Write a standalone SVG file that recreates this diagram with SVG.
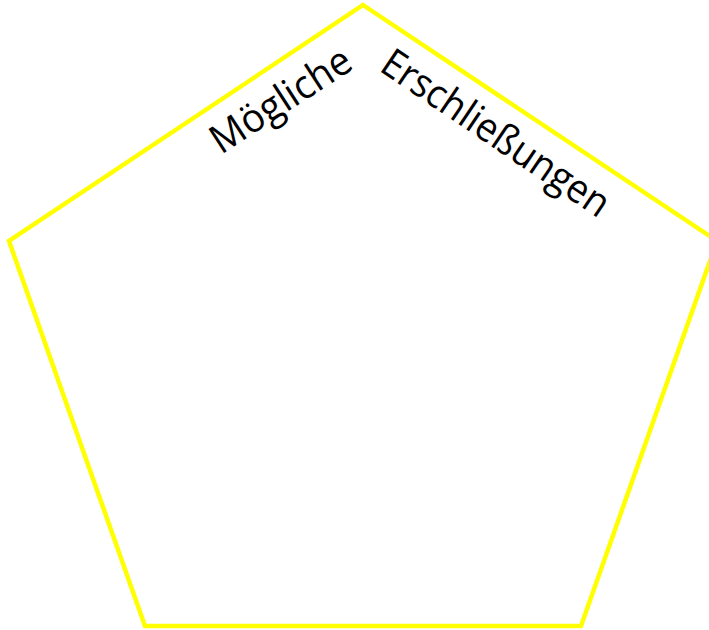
<svg xmlns="http://www.w3.org/2000/svg" width="709" height="630" viewBox="0 0 709 630">
  <style>
    .shape { fill: none; stroke: #FFFF00; stroke-width: 4.5; stroke-linejoin: miter; }
    .label { font-family: "Open Sans", "Liberation Sans", sans-serif; font-size: 40px; fill: #000000; }
  </style>
  <rect width="709" height="630" fill="#FFFFFF"/>
  <g id="pentagon">
    <polygon class="shape" points="363,5 717,241 581,626 145,626 9,241"/>
  </g>
  <g id="label-moegliche">
    <text class="label" transform="translate(221,155) rotate(-33)" textLength="160" lengthAdjust="spacingAndGlyphs">Mögliche</text>
  </g>
  <g id="label-erschliessungen">
    <text class="label" transform="translate(378,70) rotate(34)" textLength="266" lengthAdjust="spacingAndGlyphs">Erschließungen</text>
  </g>
</svg>
